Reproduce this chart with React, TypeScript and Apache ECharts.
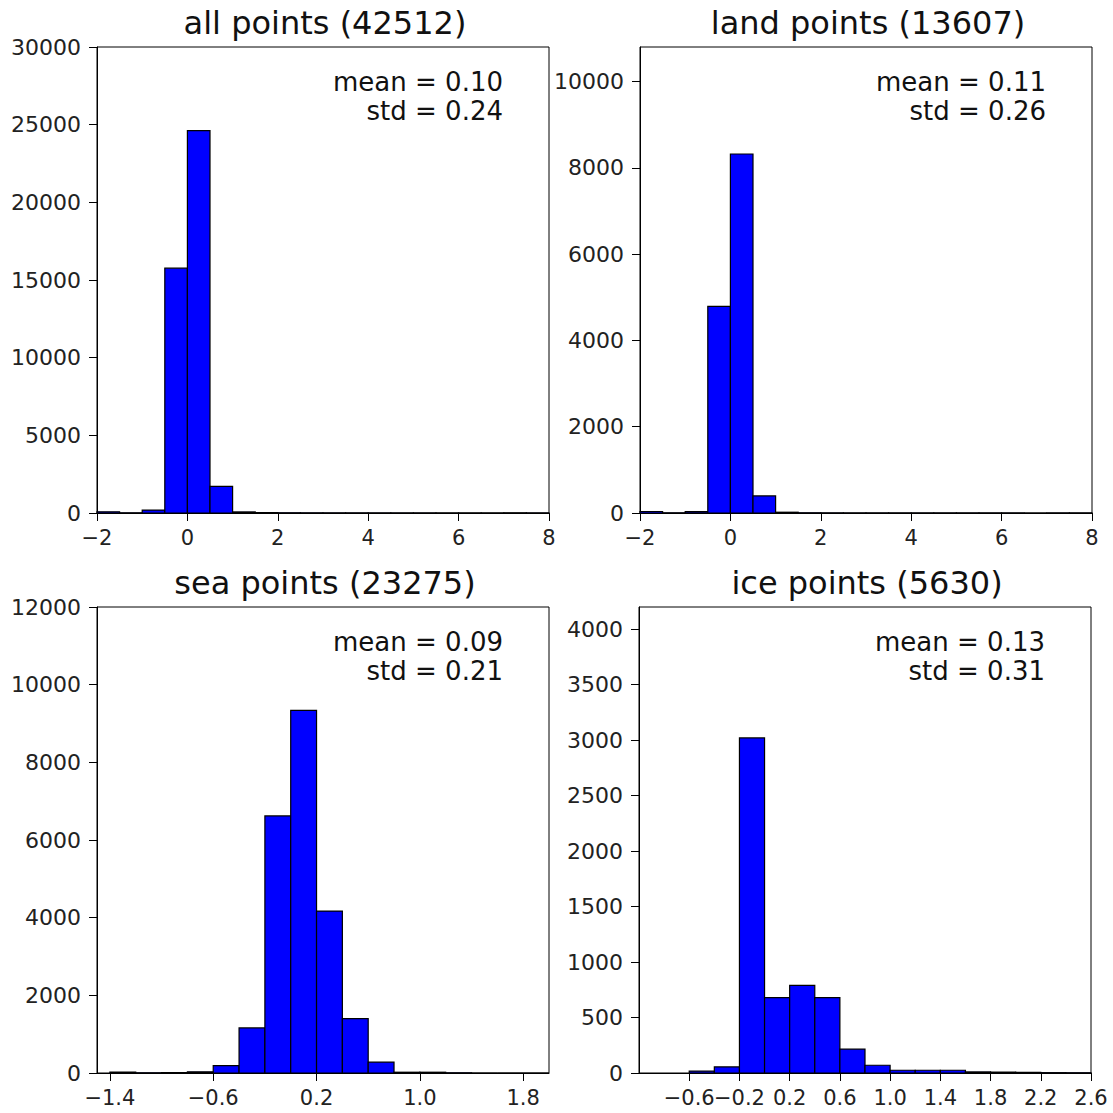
import React, { useEffect, useRef } from "react";
import * as echarts from "echarts";

// ---- data ----
const titles = ["all points (42512)", "land points (13607)", "sea points (23275)", "ice points (5630)"];
const means = ["0.10", "0.11", "0.09", "0.13"];
const stds = ["0.24", "0.26", "0.21", "0.31"];

const allEdges = [-2, -1.5, -1, -0.5, 0, 0.5, 1, 1.5, 2, 2.5, 3, 3.5, 4, 4.5, 5, 5.5, 6, 6.5, 7, 7.5, 8];
const allCounts = [80, 8, 190, 15760, 24620, 1710, 70, 20, 12, 8, 6, 5, 4, 3, 3, 2, 2, 2, 3, 4];

const landEdges = [-2, -1.5, -1, -0.5, 0, 0.5, 1, 1.5, 2, 2.5, 3, 3.5, 4, 4.5, 5, 5.5, 6, 6.5, 7, 7.5, 8];
const landCounts = [35, 3, 30, 4790, 8320, 395, 18, 4, 2, 1, 1, 1, 1, 1, 1, 1, 1, 0, 1, 1];

const seaEdges = [-1.4, -1.2, -1.0, -0.8, -0.6, -0.4, -0.2, 0.0, 0.2, 0.4, 0.6, 0.8, 1.0, 1.2, 1.4, 1.6, 1.8, 2.0];
const seaCounts = [25, 5, 10, 30, 190, 1160, 6620, 9340, 4170, 1400, 280, 20, 20, 5, 0, 0, 0];

const iceEdges = [-0.6, -0.4, -0.2, 0.0, 0.2, 0.4, 0.6, 0.8, 1.0, 1.2, 1.4, 1.6, 1.8, 2.0, 2.2, 2.4, 2.6];
const iceCounts = [17, 55, 3020, 680, 790, 680, 215, 70, 25, 25, 25, 10, 8, 5, 3, 2];

const xTicksAll = [-2, 0, 2, 4, 6, 8];
const xTicksSea = [-1.4, -0.6, 0.2, 1.0, 1.8];
// ice x labels are split over two overlaid axes so that adjacent labels are never auto-hidden
const xTicksIceA = [-0.6, 0.2, 1.0, 1.8, 2.6];
const xTicksIceB = [-0.2, 0.6, 1.4, 2.2];
const yTicksAll = [0, 5000, 10000, 15000, 20000, 25000, 30000];
const yTicksLand = [0, 2000, 4000, 6000, 8000, 10000];
const yTicksSea = [0, 2000, 4000, 6000, 8000, 10000, 12000];
const yTicksIce = [0, 500, 1000, 1500, 2000, 2500, 3000, 3500, 4000];

const xRanges = [[-2, 8], [-2, 8], [-1.5, 2.0], [-1.0, 2.6]];
const yMax = [30000, 10800, 12000, 4200];

export default function App() {
  const ref = useRef<HTMLDivElement>(null);
  useEffect(() => {
    if (!ref.current) return;
    const chart = echarts.init(ref.current, undefined, { renderer: "svg" });
    const FONT = "DejaVu Sans";
    const grids = [
      { left: 97, top: 47, width: 452, height: 466 },
      { left: 640, top: 47, width: 452, height: 466 },
      { left: 97, top: 607, width: 452, height: 466 },
      { left: 639, top: 607, width: 452, height: 466 },
    ];
    const edges = [allEdges, landEdges, seaEdges, iceEdges];
    const counts = [allCounts, landCounts, seaCounts, iceCounts];
    const yTicks = [yTicksAll, yTicksLand, yTicksSea, yTicksIce];
    const fmtX = (int: boolean) => (v: number) => {
      const s = int ? String(Math.round(v)) : v.toFixed(1);
      return s.replace("-", "\u2212");
    };
    const xAxisDefs = [
      { grid: 0, ticks: xTicksAll, int: true, line: true },
      { grid: 1, ticks: xTicksAll, int: true, line: true },
      { grid: 2, ticks: xTicksSea, int: false, line: true },
      { grid: 3, ticks: xTicksIceA, int: false, line: true },
      { grid: 3, ticks: xTicksIceB, int: false, line: false },
    ];
    const option: any = {
      animation: false,
      backgroundColor: "#fff",
      title: grids.map((g, i) => ({
        text: titles[i],
        left: g.left + g.width / 2 - 3,
        top: i < 2 ? 2 : 562,
        textAlign: "center",
        textStyle: { fontFamily: FONT, fontSize: 32, fontWeight: "normal", color: "#111" },
      })),
      grid: grids.map((g) => ({ ...g, show: true, borderColor: "#000", borderWidth: 1, backgroundColor: "#fff" })),
      xAxis: xAxisDefs.map((d) => ({
        type: "value",
        gridIndex: d.grid,
        position: "bottom",
        min: xRanges[d.grid][0],
        max: xRanges[d.grid][1],
        splitLine: { show: false },
        axisLine: { show: d.line, onZero: false, lineStyle: { color: "#000", width: 1 } },
        axisTick: { show: true, length: 8, customValues: d.ticks, lineStyle: { color: "#000" } },
        axisLabel: {
          customValues: d.ticks,
          formatter: fmtX(d.int),
          fontFamily: FONT,
          fontSize: 21,
          color: "#222",
          margin: 14,
          hideOverlap: false,
          showMinLabel: true,
          showMaxLabel: true,
        },
      })),
      yAxis: grids.map((g, i) => ({
        type: "value",
        gridIndex: i,
        min: 0,
        max: yMax[i],
        splitLine: { show: false },
        axisLine: { show: true, onZero: false, lineStyle: { color: "#000", width: 1 } },
        axisTick: { show: true, length: 8, customValues: yTicks[i], lineStyle: { color: "#000" } },
        axisLabel: {
          customValues: yTicks[i],
          formatter: (v: number) => String(v),
          fontFamily: FONT,
          fontSize: 22,
          color: "#222",
          margin: 16,
          hideOverlap: false,
        },
      })),
      series: grids.map((g, i) => ({
        type: "custom",
        xAxisIndex: i,
        yAxisIndex: i,
        encode: { x: [0, 1], y: 2 },
        data: counts[i].map((c, k) => [edges[i][k], edges[i][k + 1], c]),
        renderItem: (params: any, api: any) => {
          const x0 = api.value(0);
          const x1 = api.value(1);
          const c = api.value(2);
          const p0 = api.coord([x0, c]);
          const p1 = api.coord([x1, 0]);
          return {
            type: "rect",
            shape: { x: p0[0], y: p0[1], width: p1[0] - p0[0], height: p1[1] - p0[1] },
            style: { fill: "#0000ff", stroke: "#000", lineWidth: 1.2 },
          };
        },
      })),
      graphic: grids.map((g, i) => ({
        type: "text",
        right: 1113 - (g.left + g.width - 46),
        top: g.top + 20,
        style: {
          text: "mean = " + means[i] + "\nstd = " + stds[i],
          textAlign: "right",
          fontFamily: FONT,
          fontSize: 26,
          lineHeight: 29,
          fill: "#111",
        },
      })),
    };
    chart.setOption(option);
    return () => chart.dispose();
  }, []);
  return (
    <div
      ref={ref}
      style={{ position: "fixed", left: 0, top: 0, width: 1113, height: 1113, background: "#fff" }}
    />
  );
}
